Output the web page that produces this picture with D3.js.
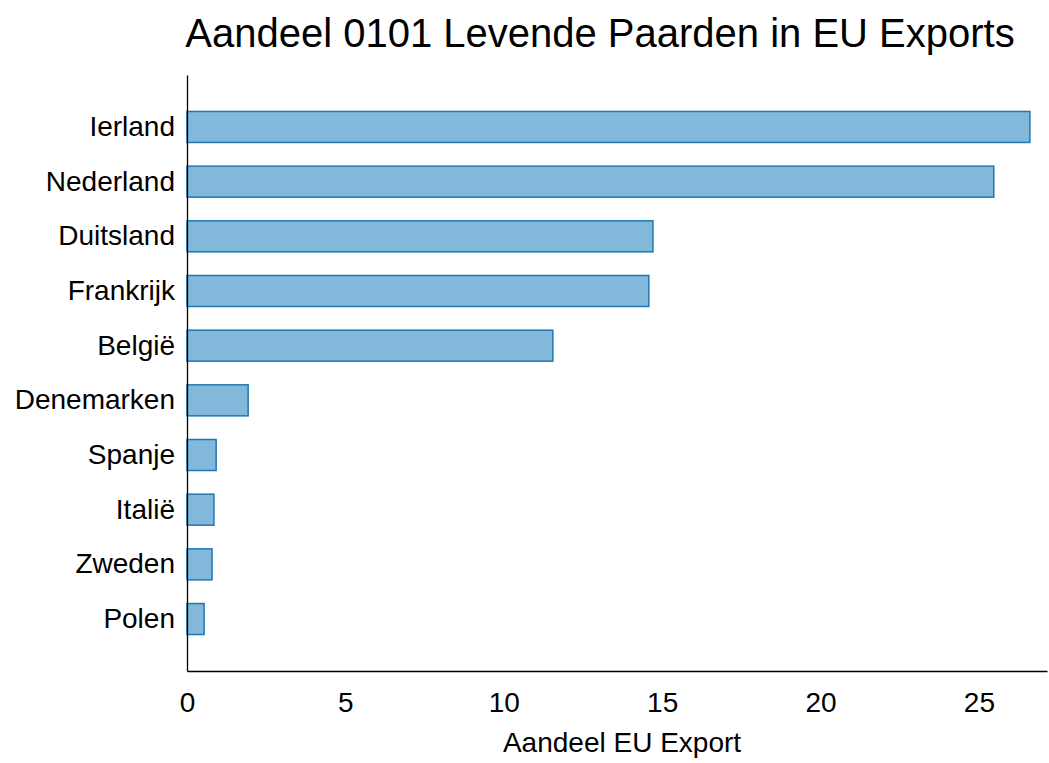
<!DOCTYPE html>
<html>
<head>
<meta charset="utf-8">
<script src="https://cdn.jsdelivr.net/npm/d3@7"></script>
<style>
  body { margin: 0; background: #fff; }
  text { font-family: "Liberation Sans", Helvetica, Arial, sans-serif; fill: #000; }
</style>
</head>
<body>
<script>
var countries = ["Ierland", "Nederland", "Duitsland", "Frankrijk", "België",
                 "Denemarken", "Spanje", "Italië", "Zweden", "Polen"];
var shares = [26.61, 25.47, 14.71, 14.58, 11.55, 1.93, 0.92, 0.85, 0.79, 0.54];
var xTicks = [0, 5, 10, 15, 20, 25];

var width = 1049, height = 763;
var margin = { left: 187, right: 2, top: 75, bottom: 92 };
var labelFont = "Liberation Sans, Helvetica, Arial, sans-serif";

var svg = d3.select("body").append("svg")
    .attr("width", width)
    .attr("height", height);

var x = d3.scaleLinear()
    .domain([0, 27.15])
    .range([margin.left, width - margin.right]);

var y = d3.scaleBand()
    .domain(countries)
    .range([margin.top, height - margin.bottom])
    .paddingInner(0.433)
    .paddingOuter(0.667);

// bars
svg.selectAll("rect.bar")
    .data(countries)
    .enter().append("rect")
    .attr("class", "bar")
    .attr("x", x(0))
    .attr("y", function (d) { return y(d); })
    .attr("width", function (d, i) { return x(shares[i]) - x(0); })
    .attr("height", y.bandwidth())
    .attr("fill", "#82b8d9")
    .attr("stroke", "#1f77b4")
    .attr("stroke-width", 1.5);

// x axis
var xAxis = svg.append("g")
    .attr("transform", "translate(0," + (height - margin.bottom) + ")")
    .call(d3.axisBottom(x).tickValues(xTicks).tickSize(0).tickPadding(21));
xAxis.select(".domain").attr("stroke", "#000").attr("stroke-width", 1.3);
xAxis.selectAll("text").attr("font-size", 28).style("font-family", labelFont);

// y axis
var yAxis = svg.append("g")
    .attr("transform", "translate(" + margin.left + ",0)")
    .call(d3.axisLeft(y).tickSize(0).tickPadding(12));
yAxis.select(".domain").attr("stroke", "#000").attr("stroke-width", 1.3);
yAxis.selectAll("text").attr("font-size", 28).style("font-family", labelFont);

// axis label
svg.append("text")
    .attr("x", 622)
    .attr("y", 752)
    .attr("text-anchor", "middle")
    .attr("font-size", 28)
    .text("Aandeel EU Export");

// title
svg.append("text")
    .attr("x", 600)
    .attr("y", 47)
    .attr("text-anchor", "middle")
    .attr("font-size", 40)
    .text("Aandeel 0101 Levende Paarden in EU Exports");
</script>
</body>
</html>
